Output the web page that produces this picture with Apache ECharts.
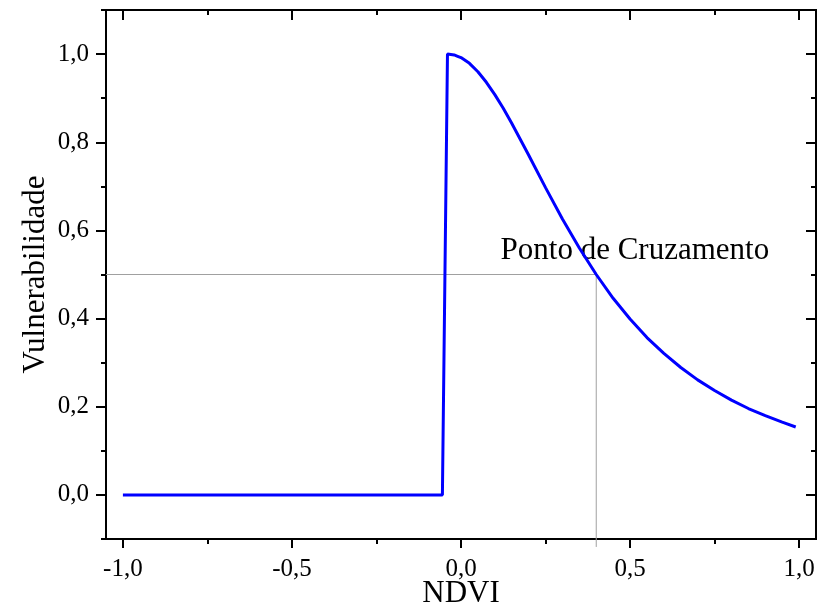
<!DOCTYPE html>
<html>
<head>
<meta charset="utf-8">
<script src="https://cdn.jsdelivr.net/npm/echarts@6/dist/echarts.min.js"></script>
<style>
  html, body { margin: 0; padding: 0; background: #fff; }
  #chart { width: 824px; height: 611px; }
</style>
</head>
<body>
<div id="chart"></div>
<script>
// curve
const ndvi = [-1.0, -0.055, -0.04, -0.03, -0.02, -0.01, 0.0, 0.025, 0.05, 0.075, 0.10, 0.125, 0.15,
  0.20, 0.25, 0.30, 0.35, 0.40, 0.45, 0.50, 0.55, 0.60, 0.65, 0.70, 0.75, 0.80, 0.85, 0.90, 0.95, 0.99];
const vulnerabilidade = [0, 0, 1.0, 0.999, 0.998, 0.995, 0.992, 0.979, 0.960, 0.936, 0.908, 0.877, 0.843,
  0.771, 0.697, 0.626, 0.560, 0.500, 0.446, 0.399, 0.357, 0.321, 0.289, 0.261, 0.237, 0.215, 0.196, 0.180, 0.165, 0.154];

// crossing point
const crossX = 0.4;
const crossY = 0.5;
const crossLabel = 'Ponto de Cruzamento';

// axes
const xRange = [-1.05, 1.05];
const yRange = [-0.1, 1.1];
const xMajor = [-1.0, -0.5, 0.0, 0.5, 1.0];
const xMinor = [-0.75, -0.25, 0.25, 0.75];
const yMajor = [0.0, 0.2, 0.4, 0.6, 0.8, 1.0];
const yMinor = [-0.1, 0.1, 0.3, 0.5, 0.7, 0.9, 1.1];

const font = '"Liberation Serif", "Times New Roman", serif';
const fmt = v => v.toFixed(1).replace('.', ',');

function axis(pos, ticks, len, inside, opts) {
  return Object.assign({
    type: 'value',
    position: pos,
    splitLine: { show: false },
    axisLine: { show: true, onZero: false, lineStyle: { color: '#000', width: 2 } },
    axisTick: { show: true, inside: inside, length: len, customValues: ticks,
      lineStyle: { color: '#000', width: 2 } },
    axisLabel: { show: false }
  }, opts);
}

const xOpts = { min: xRange[0], max: xRange[1] };
const yOpts = { min: yRange[0], max: yRange[1] };

const chart = echarts.init(document.getElementById('chart'));
chart.setOption({
  animation: false,
  grid: { left: 106, right: 8, top: 10, bottom: 72, outerBoundsMode: 'none', containLabel: false },
  xAxis: [
    axis('bottom', xMajor, 9, false, Object.assign({
      name: 'NDVI', nameLocation: 'middle', nameGap: 39, nameMoveOverlap: false,
      nameTextStyle: { fontFamily: font, fontSize: 31, color: '#000' },
      axisLabel: { show: true, customValues: xMajor, formatter: fmt, margin: 18,
        fontFamily: font, fontSize: 25, color: '#000' }
    }, xOpts)),
    axis('bottom', xMinor, 5, false, xOpts),
    axis('top', xMajor, 10, true, xOpts),
    axis('top', xMinor, 5, true, xOpts)
  ],
  yAxis: [
    axis('left', yMajor, 10, false, Object.assign({
      name: 'Vulnerabilidade', nameLocation: 'middle', nameGap: 55, nameMoveOverlap: false,
      nameTextStyle: { fontFamily: font, fontSize: 31, color: '#000' },
      axisLabel: { show: true, customValues: yMajor, formatter: fmt, margin: 17,
        fontFamily: font, fontSize: 25, color: '#000' }
    }, yOpts)),
    axis('left', yMinor, 5, false, yOpts),
    axis('right', yMajor, 10, true, yOpts),
    axis('right', yMinor, 5, true, yOpts)
  ],
  series: [
    {
      type: 'line',
      silent: true,
      clip: false,
      symbol: 'none',
      lineStyle: { color: '#a0a0a0', width: 1 },
      data: [[xRange[0], crossY], [crossX, crossY], [crossX, -0.118]],
      z: 1
    },
    {
      type: 'scatter',
      silent: true,
      symbolSize: 0,
      itemStyle: { opacity: 1 },
      data: [[0.117, 0.519]],
      label: {
        show: true, position: [0, 0], align: 'left', verticalAlign: 'bottom',
        formatter: crossLabel, fontFamily: font, fontSize: 31, color: '#000'
      },
      z: 2
    },
    {
      type: 'line',
      symbol: 'none',
      lineStyle: { color: '#0000ff', width: 3 },
      data: ndvi.map((x, i) => [x, vulnerabilidade[i]]),
      z: 3
    }
  ]
});
</script>
</body>
</html>
